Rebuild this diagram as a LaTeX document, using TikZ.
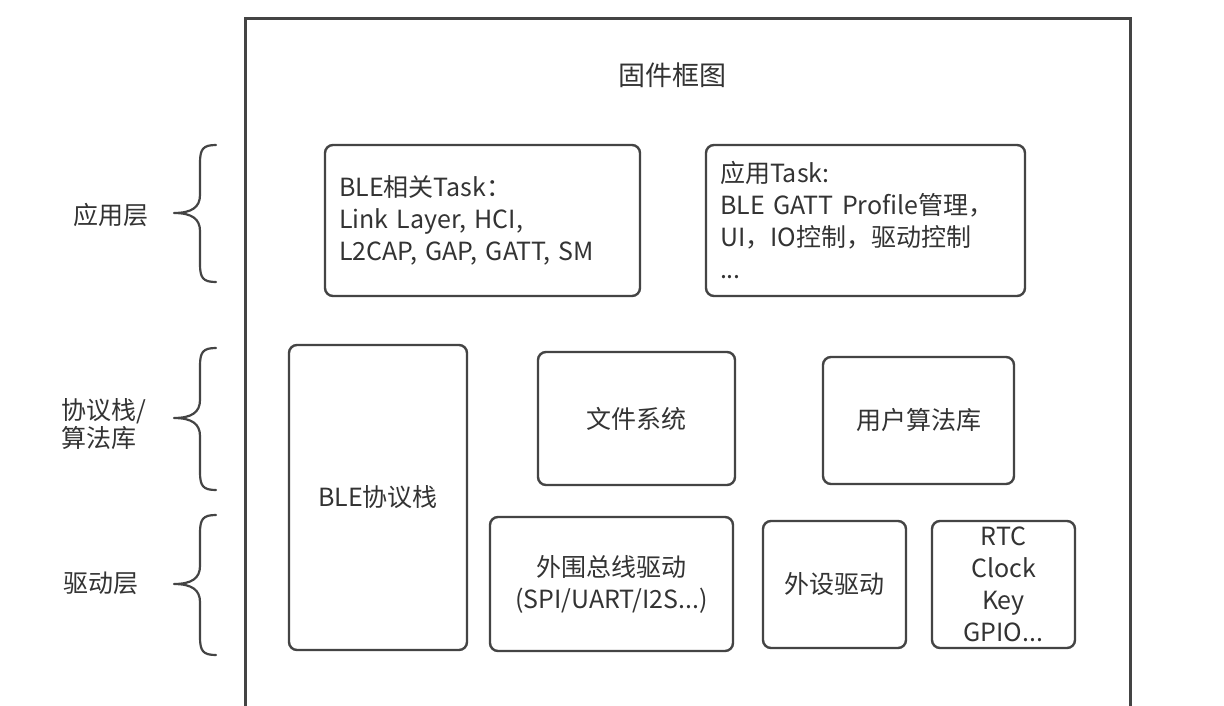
\documentclass[tikz,border=0pt]{standalone}
\usepackage{fontspec}
\setmainfont{Noto Sans CJK SC}
\definecolor{linec}{HTML}{444444}
\definecolor{textc}{HTML}{333333}
\begin{document}
\begin{tikzpicture}[x=1pt,y=-1pt,
  txt/.style={text=textc,font=\fontsize{25}{32}\selectfont},
  blk/.style={draw=linec,line width=2.4pt,rounded corners=8pt,txt,align=center,inner sep=0pt},
  frm/.style={draw=linec,line width=3pt},
  brc/.style={draw=linec,line width=2.2pt,line cap=round,line join=round}]
\useasboundingbox (0,0) rectangle (1224,705);
\fill[white] (0,0) rectangle (1224,705);
% outer frame
\draw[frm] (245,706) -- (245,18) -- (1130,18) -- (1130,706);
\node[txt,font=\fontsize{27}{32}\selectfont] (title) at (672,75) {固件框图};
% top row
\node[blk,minimum width=315pt,minimum height=151pt,text width=287pt,align=left] (bletask) at (482.5,220.5)
  {BLE相关Task：\\Link Layer, HCI,\\L2CAP, GAP, GATT, SM};
\node[blk,minimum width=319pt,minimum height=151pt,text width=291pt,align=left] (apptask) at (865.5,220.5)
  {应用Task:\\BLE GATT Profile管理，\\UI，IO控制，驱动控制\\...};
% middle
\node[blk,minimum width=178pt,minimum height=305pt] (blestack) at (378,497.5) {BLE协议栈};
\node[blk,minimum width=197pt,minimum height=133pt] (fs) at (636.5,418.5) {文件系统};
\node[blk,minimum width=191pt,minimum height=127pt] (alg) at (918.5,420.5) {用户算法库};
% bottom
\node[blk,minimum width=243pt,minimum height=134pt] (bus) at (611.5,584) {外围总线驱动\\(SPI/UART/I2S...)};
\node[blk,minimum width=143pt,minimum height=127pt] (perip) at (834.5,584.5) {外设驱动};
\node[blk,minimum width=143pt,minimum height=127pt] (rtc) at (1003.5,584.5) {RTC\\Clock\\Key\\GPIO...};
% braces
\newcommand\mybrace[3]{% top, tip, bottom
  \draw[brc] (216,#1) .. controls (203,#1) and (200,#1+4) .. (200,#1+18)
    -- (200,#2-18) .. controls (200,#2-6) and (192,#2) .. (174,#2)
    .. controls (192,#2) and (200,#2+6) .. (200,#2+18)
    -- (200,#3-18) .. controls (200,#3-4) and (203,#3) .. (216,#3);}
\mybrace{145}{213}{282}
\mybrace{348}{418}{490}
\mybrace{515}{584}{655}
\node[txt,anchor=west] (l1) at (70,215) {应用层};
\node[txt,anchor=west,align=left,font=\fontsize{25}{28}\selectfont] (l2) at (58,424) {协议栈/\\算法库};
\node[txt,anchor=west] (l3) at (60,583) {驱动层};
\end{tikzpicture}
\end{document}
